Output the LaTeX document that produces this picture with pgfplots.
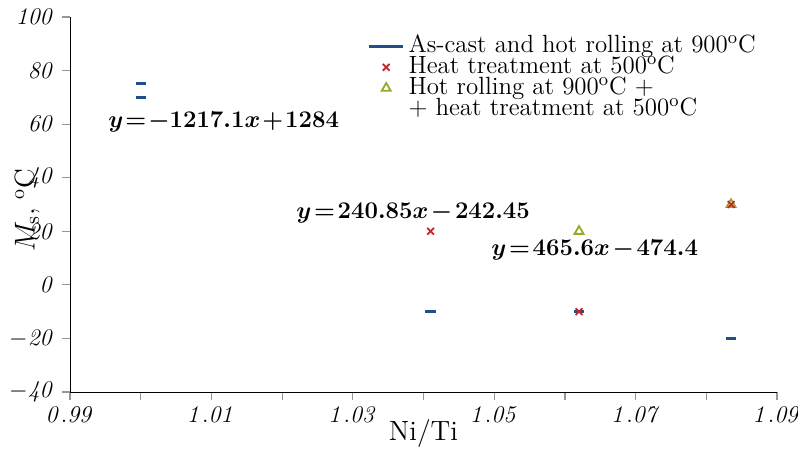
\documentclass[border=0pt]{standalone}
\usepackage{bm}
\usepackage{pgfplots}
\pgfplotsset{compat=1.18}
\definecolor{sblue}{RGB}{31,80,140}
\definecolor{sred}{RGB}{192,40,45}
\definecolor{sgreen}{RGB}{150,170,40}
\definecolor{axgray}{RGB}{150,150,150}
\pgfdeclareplotmark{hbar}{%
  \pgfpathmoveto{\pgfqpoint{-\pgfplotmarksize}{0pt}}%
  \pgfpathlineto{\pgfqpoint{\pgfplotmarksize}{0pt}}%
  \pgfusepathqstroke}
\begin{document}
\begin{tikzpicture}
\path[use as bounding box] (-35bp,-30.5bp) rectangle (364bp,196bp);
\begin{axis}[
  at={(0,0)}, anchor=south west,
  scale only axis, width=353.5bp, height=187.5bp,
  xmin=0.99, xmax=1.09, ymin=-40, ymax=100,
  axis x line=bottom, axis y line=left,
  axis line style={axgray, line width=0.6pt},
  every outer x axis line/.style={},
  every outer y axis line/.style={},
  tick style={axgray, line width=0.6pt},
  tick align=outside,
  major tick length=4bp, minor tick length=4bp,
  xtick={0.99,1.01,1.03,1.05,1.07,1.09},
  xticklabels={$\mathit{0.99}$,$\mathit{1.01}$,$\mathit{1.03}$,$\mathit{1.05}$,$\mathit{1.07}$,$\mathit{1.09}$},
  minor xtick={1.00,1.02,1.04,1.06,1.08},
  ytick={-40,-20,0,20,40,60,80,100},
  yticklabels={$\mathit{-40}$,$\mathit{-20}$,$\mathit{0}$,$\mathit{20}$,$\mathit{40}$,$\mathit{60}$,$\mathit{80}$,$\mathit{100}$},
  ticklabel style={font=\large},
  xlabel={Ni/Ti},
  ylabel={$M_{\mathrm{s}}$, ${}^{\mathrm{o}}$C},
  label style={font=\fontsize{14}{16}\selectfont},
  xlabel style={at={(axis description cs:0.5,0)}, anchor=base, yshift=-24bp},
  ylabel style={at={(axis description cs:-0.05,0.485)}, anchor=base},
  legend style={draw=none, fill=none, at={(0.418,0.952)}, anchor=north west,
    font=\fontsize{12.5}{14}\selectfont, cells={anchor=west}, row sep=1.5pt, inner sep=1pt,
    nodes={text height=7pt, text depth=1pt, inner ysep=0.5pt}},
  clip=false,
]
\addlegendimage{sblue, line width=1.3pt}
\addlegendentry{As-cast and hot rolling at 900${}^{\mathrm{o}}$C}
\addplot[only marks, mark=hbar, mark size=2.6pt, sblue, line width=1.5pt, forget plot]
  coordinates {(1.000,75) (1.000,70) (1.041,-10) (1.062,-10) (1.0835,-20)};
\addplot[only marks, mark=x, mark size=2.4pt, sred, line width=0.9pt]
  coordinates {(1.041,20) (1.062,-10)};
\addlegendentry{Heat treatment at 500${}^{\mathrm{o}}$C}
\addplot[only marks, mark=triangle, mark size=2.6pt, sgreen, line width=0.9pt]
  coordinates {(1.062,20) (1.0835,30)};
\addlegendentry{Hot rolling at 900${}^{\mathrm{o}}$C +}
\addlegendimage{empty legend}
\addlegendentry{+ heat treatment at 500${}^{\mathrm{o}}$C}
\addplot[only marks, mark=x, mark size=2.4pt, sred, line width=0.9pt, forget plot]
  coordinates {(1.0835,30)};
\node[anchor=west, inner sep=0pt] at (axis cs:0.99537,60.8) {\large $\medmuskip=1.5mu\thickmuskip=1.5mu\bm{y=-1217.1x+1284}$};
\node[anchor=west, inner sep=0pt] at (axis cs:1.02197,26.9) {\large $\medmuskip=2mu\thickmuskip=2mu\bm{y=240.85x-242.45}$};
\node[anchor=west, inner sep=0pt] at (axis cs:1.04955,13.1) {\large $\medmuskip=2mu\thickmuskip=2mu\bm{y=465.6x-474.4}$};
\end{axis}
\end{tikzpicture}
\end{document}
